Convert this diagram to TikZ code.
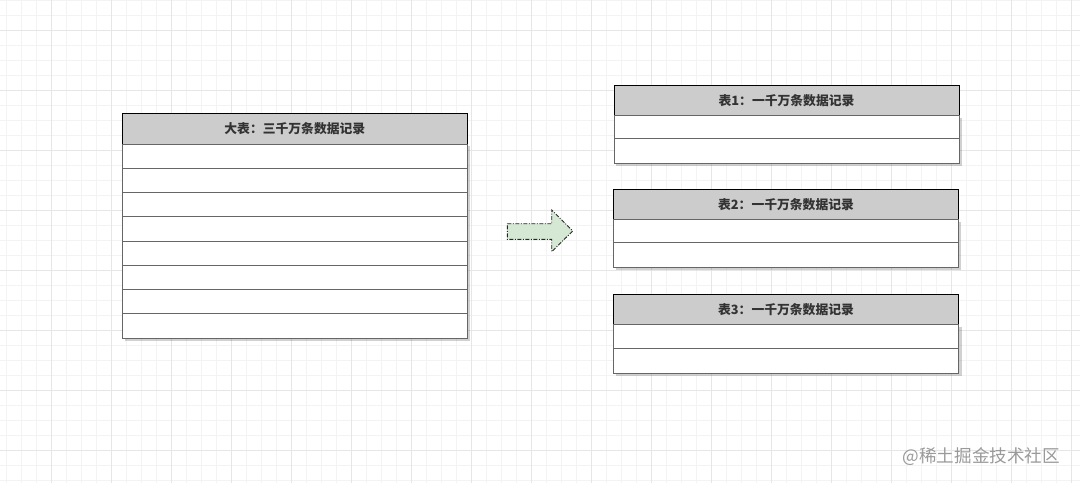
\documentclass[tikz,border=0pt]{standalone}
\usepackage{fontspec}
\newfontfamily\cjk{Noto Sans CJK SC}
\definecolor{gridminor}{HTML}{F3F3F3}
\definecolor{gridmajor}{HTML}{E6E6E6}
\definecolor{hdrfill}{HTML}{CCCCCC}
\definecolor{rowline}{HTML}{666666}
\definecolor{txt}{HTML}{333333}
\definecolor{arrowfill}{HTML}{D5E8D4}
\definecolor{wm}{HTML}{9A9A9A}
\tikzset{
  hdr/.style={draw=black, fill=hdrfill, line width=1pt, minimum width=345pt, minimum height=30pt,
    anchor=north west, inner sep=0pt, outer sep=0pt, text=txt, font=\cjk\bfseries\fontsize{12.8pt}{14pt}\selectfont},
  rowbox/.style={draw=rowline, fill=white, line width=0.9pt, minimum width=345pt,
    anchor=north west, inner sep=0pt, outer sep=0pt},
  shadowbox/.style={fill=black, opacity=0.18},
  gminor/.style={draw=gridminor, line width=0.8pt},
  gmajor/.style={draw=gridmajor, line width=0.9pt},
}
\begin{document}
\begin{tikzpicture}[x=1pt,y=-1pt]
\fill[white] (0,0) rectangle (1080,483);
\useasboundingbox (0,0) rectangle (1080,483);
% grid
\foreach \x in {6.7,21.7,...,1080}{\draw[gminor] (\x,0) -- (\x,483);}
\foreach \y in {0,15,...,483}{\draw[gminor] (0,\y) -- (1080,\y);}
\foreach \x in {51.7,111.7,...,1080}{\draw[gmajor] (\x,0) -- (\x,483);}
\foreach \y in {30,90,...,483}{\draw[gmajor] (0,\y) -- (1080,\y);}

% shadows
\fill[shadowbox] (124.5,146) rectangle (470,340.5);
\fill[shadowbox] (616,118) rectangle (961.5,165.5);
\fill[shadowbox] (615.5,221.5) rectangle (961,269.5);
\fill[shadowbox] (615.5,327) rectangle (961.5,375.5);

% big table
\node[hdr, minimum height=31pt] (big) at (122.3,113.3) {大表：三千万条数据记录};
\foreach \i in {0,...,7}{
  \node[rowbox, minimum height=24.25pt] (bigr\i) at (122.3,{144+24.25*\i}) {};
}
\node[hdr] (t1) at (614,85.3) {表1：一千万条数据记录};
\node[rowbox, minimum height=23pt] (t1r0) at (614,115.3) {};
\node[rowbox, minimum height=24.7pt] (t1r1) at (614,138.3) {};

\node[hdr, minimum height=29.6pt] (t2) at (613.5,189.7) {表2：一千万条数据记录};
\node[rowbox, minimum height=22.7pt] (t2r0) at (613.5,219.3) {};
\node[rowbox, minimum height=25.3pt] (t2r1) at (613.5,242) {};

\node[hdr] (t3) at (613.5,294.7) {表3：一千万条数据记录};
\node[rowbox, minimum height=23.3pt] (t3r0) at (613.5,324.7) {};
\node[rowbox, minimum height=25.3pt] (t3r1) at (613.5,348) {};

% block arrow
\draw[fill=arrowfill, draw=black!85, line width=0.9pt, dash pattern=on 4pt off 1.5pt on 1pt off 1.5pt, line join=miter]
  (507.3,223.7) -- (551.7,223.7) -- (551.7,210) -- (572.7,231) -- (551.7,251.7) -- (551.7,239.3) -- (507.3,239.3) -- cycle;

% watermark
\node[anchor=west, inner sep=0pt, text=wm, font=\cjk\fontsize{17.6pt}{19pt}\selectfont] (wmk) at (902.5,457) {@稀土掘金技术社区};
\end{tikzpicture}
\end{document}
